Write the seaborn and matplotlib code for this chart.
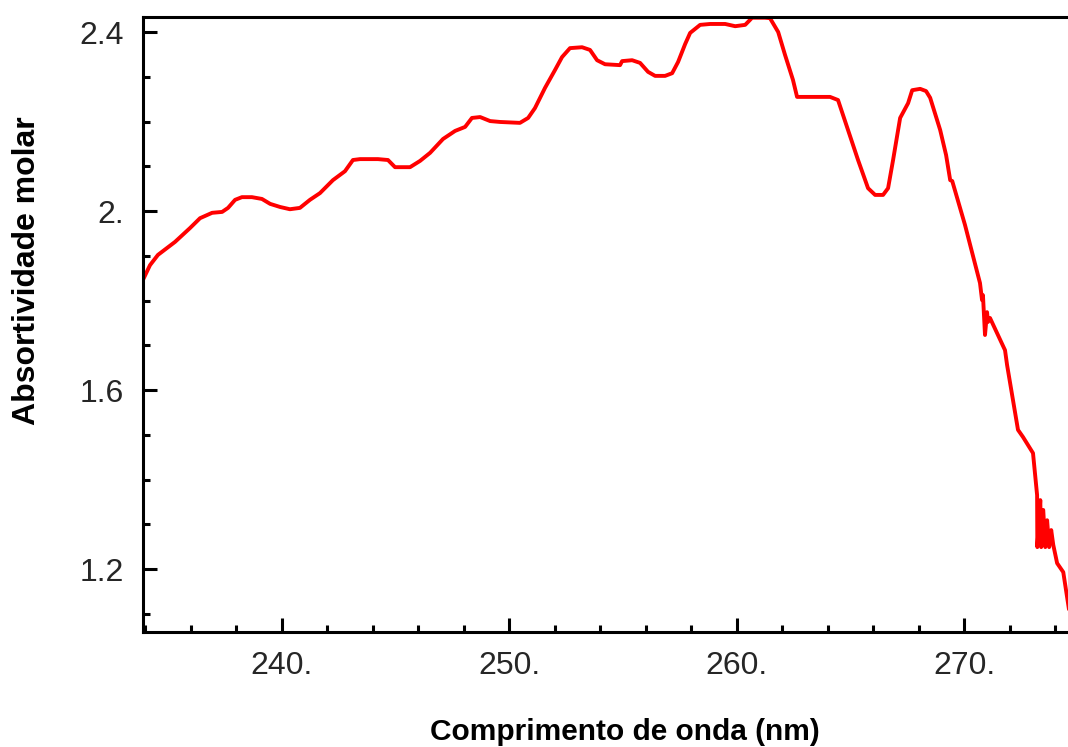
import matplotlib
matplotlib.use("Agg")
import matplotlib.pyplot as plt
import seaborn as sns
import pandas as pd
from matplotlib.ticker import MultipleLocator

# Molar absorptivity spectrum (wavelength in nm)
wavelength = [
    233.90, 234.21, 234.56, 235.31, 235.97, 236.41, 236.94, 237.38, 237.64, 237.95,
    238.25, 238.69, 239.13, 239.49, 239.93, 240.36, 240.80, 241.24, 241.68, 242.25,
    242.78, 243.13, 243.44, 244.23, 244.67, 244.98, 245.64, 246.08, 246.52, 247.09,
    247.62, 248.06, 248.36, 248.72, 249.16, 249.60, 250.47, 250.83, 251.13, 251.57,
    252.01, 252.32, 252.67, 253.20, 253.55, 253.86, 254.21, 254.87, 254.96, 255.40,
    255.75, 256.10, 256.41, 256.85, 257.16, 257.42, 257.73, 257.95, 258.39, 258.83,
    259.49, 259.93, 260.37, 260.58, 260.67, 261.24, 261.46, 261.82, 262.12, 262.47,
    262.65, 263.22, 264.10, 264.45, 264.89, 265.33, 265.77, 266.08, 266.43, 266.65,
    266.87, 267.18, 267.53, 267.71, 268.06, 268.32, 268.50, 268.94, 269.20, 269.38,
    269.47, 270.03, 270.69, 270.78, 270.82, 270.91, 271.00, 271.04, 271.13, 271.79,
    271.88, 272.36, 272.58, 273.02, 273.20, 273.21, 273.34, 273.38, 273.47, 273.56,
    273.64, 273.73, 273.82, 273.91, 274.08, 274.35, 274.60,
]
absorptivity = [
    1.846, 1.879, 1.902, 1.931, 1.962, 1.984, 1.996, 1.998, 2.007, 2.025,
    2.031, 2.031, 2.027, 2.016, 2.009, 2.004, 2.007, 2.025, 2.040, 2.069,
    2.089, 2.114, 2.116, 2.116, 2.114, 2.098, 2.098, 2.112, 2.130, 2.161,
    2.179, 2.188, 2.208, 2.210, 2.201, 2.199, 2.197, 2.208, 2.230, 2.275,
    2.315, 2.344, 2.364, 2.366, 2.360, 2.337, 2.328, 2.326, 2.335, 2.337,
    2.331, 2.311, 2.302, 2.302, 2.308, 2.333, 2.373, 2.398, 2.416, 2.418,
    2.418, 2.413, 2.416, 2.427, 2.432, 2.432, 2.431, 2.400, 2.349, 2.293,
    2.255, 2.255, 2.255, 2.248, 2.181, 2.114, 2.051, 2.036, 2.036, 2.051,
    2.114, 2.208, 2.241, 2.270, 2.273, 2.268, 2.253, 2.181, 2.125, 2.069,
    2.067, 1.969, 1.839, 1.801, 1.812, 1.723, 1.774, 1.752, 1.761, 1.689,
    1.656, 1.511, 1.495, 1.459, 1.365, 1.249, 1.354, 1.249, 1.332, 1.249,
    1.309, 1.249, 1.287, 1.254, 1.213, 1.193, 1.110,
]

x_ticks = [240, 250, 260, 270]
x_tick_labels = ["240.", "250.", "260.", "270."]
y_ticks = [1.2, 1.6, 2.0, 2.4]
y_tick_labels = ["1.2", "1.6", "2.", "2.4"]

sns.set_theme(style="ticks")
plt.rcParams["font.family"] = ["Liberation Sans", "DejaVu Sans"]

df = pd.DataFrame({"wavelength": wavelength, "absorptivity": absorptivity})

fig = plt.figure(figsize=(10.68, 7.47), dpi=100)
ax = fig.add_axes([0.1339, 0.1539, 0.9017, 0.8233])

sns.lineplot(data=df, x="wavelength", y="absorptivity", ax=ax,
             color="#ff0000", linewidth=2.8, sort=False, estimator=None)

ax.set_xlim(233.903, 276.229)
ax.set_ylim(1.0592, 2.4335)

ax.set_xticks(x_ticks, x_tick_labels)
ax.set_yticks(y_ticks, y_tick_labels)
ax.xaxis.set_minor_locator(MultipleLocator(2))
ax.yaxis.set_minor_locator(MultipleLocator(0.1))

ax.tick_params(axis="both", which="major", direction="in", length=10, width=2.2,
               labelsize=23, labelcolor="#262626", color="black")
ax.tick_params(axis="both", which="minor", direction="in", length=5, width=2.2,
               color="black")
ax.tick_params(axis="x", which="major", pad=14)
ax.tick_params(axis="y", which="major", pad=14)
ax.tick_params(top=False, right=False, which="both")

for side in ["left", "bottom", "top"]:
    ax.spines[side].set_linewidth(2.2)
    ax.spines[side].set_color("black")
ax.spines["right"].set_visible(False)

ax.set_xlabel("Comprimento de onda (nm)", fontsize=21.5, fontweight="bold",
              color="black")
ax.set_ylabel("Absortividade molar", fontsize=23, fontweight="bold",
              color="black")
ax.xaxis.set_label_coords(0.5, -0.140)
ax.yaxis.set_label_coords(-0.105, 0.587)

fig.savefig("out.png", dpi=100, facecolor="white")
